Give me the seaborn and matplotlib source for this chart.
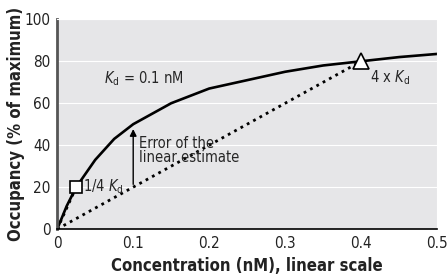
import numpy as np
import pandas as pd
import seaborn as sns
import matplotlib.pyplot as plt
from matplotlib import font_manager

# occupancy curve (Kd = 0.1 nM)
conc = [0, 0.0125, 0.025, 0.05, 0.075, 0.1, 0.15, 0.2, 0.25, 0.3, 0.35, 0.4, 0.45, 0.5]
occupancy = [0, 11, 20, 33, 43, 50, 60, 67, 71, 75, 78, 80, 82, 83.5]

# linear estimates (dotted) and marked points
lin_x = [0, 0.4]
lin_y = [0, 80]
low_x = [0, 0.025]
low_y = [0, 20]
pts_x = [0.025, 0.4]
pts_y = [20, 80]
err_x = 0.1
err_from, err_to = 20, 50

df = pd.DataFrame({"conc": conc, "occ": occupancy})

sns.set_style("darkgrid", {"axes.facecolor": "#e6e6e8", "grid.color": "white"})
plt.rcParams["font.family"] = ["DejaVu Sans"]
plt.rcParams["font.stretch"] = "condensed"
plt.rcParams["mathtext.fontset"] = "custom"
plt.rcParams["mathtext.it"] = "DejaVu Sans:italic"
plt.rcParams["mathtext.rm"] = "DejaVu Sans"

# bold condensed face for the axis titles
fp_bold = font_manager.FontProperties(family="DejaVu Sans", weight="bold")
for f in font_manager.fontManager.ttflist:
    w = f.weight if isinstance(f.weight, int) else (700 if f.weight == "bold" else 400)
    if f.stretch in ("condensed", "semi-condensed") and w >= 600 and f.style == "normal":
        fp_bold = font_manager.FontProperties(fname=f.fname)
        break

fig, ax = plt.subplots(figsize=(4.47, 2.76), dpi=100)
fig.subplots_adjust(left=0.128, right=0.978, top=0.93, bottom=0.17)

sns.lineplot(data=df, x="conc", y="occ", ax=ax, color="black", lw=1.9)
ax.plot(lin_x, lin_y, color="black", ls=(0, (1, 1.6)), lw=2.0)
ax.plot(low_x, low_y, color="black", ls=(0, (1, 1.6)), lw=2.0)
ax.plot(pts_x[0], pts_y[0], marker="s", ms=9, mfc="white", mec="black", mew=1.2, zorder=5)
ax.plot(pts_x[1], pts_y[1], marker="^", ms=12, mfc="white", mec="black", mew=1.2, zorder=5)

ax.annotate("", xy=(err_x, err_to - 1), xytext=(err_x, err_from),
            arrowprops=dict(arrowstyle="-|>", color="black", lw=1.0, mutation_scale=10))
ax.text(0.108, 44.5, "Error of the\nlinear estimate", fontsize=10.5, va="top",
        linespacing=0.95)
ax.text(0.061, 69.4, r"$K_\mathrm{d}$ = 0.1 nM", fontsize=10.5, va="baseline")
ax.text(0.034, 17.8, r"1/4 $K_\mathrm{d}$", fontsize=10.5, va="baseline")
ax.text(0.411, 70, r"4 x $K_\mathrm{d}$", fontsize=10.5, va="baseline")

ax.set_xlim(0, 0.5)
ax.set_ylim(0, 100)
ax.set_xticks([0, 0.1, 0.2, 0.3, 0.4, 0.5])
ax.set_xticklabels(["0", "0.1", "0.2", "0.3", "0.4", "0.5"])
ax.set_yticks([0, 20, 40, 60, 80, 100])
ax.grid(axis="x", visible=False)
ax.tick_params(labelsize=11, length=0, pad=5, labelcolor="#222222")
ax.set_xlabel("Concentration (nM), linear scale", fontproperties=fp_bold, fontsize=12,
              color="#222222", labelpad=4.5)
ax.set_ylabel("Occupancy (% of maximum)", fontproperties=fp_bold, fontsize=12,
              color="#222222", labelpad=-0.5)

ax.spines["left"].set_visible(True)
ax.spines["left"].set_color("#555555")
ax.spines["left"].set_linewidth(2)
ax.spines["bottom"].set_visible(True)
ax.spines["bottom"].set_color("black")
ax.spines["bottom"].set_linewidth(1.2)

fig.savefig("out.png", dpi=100)
